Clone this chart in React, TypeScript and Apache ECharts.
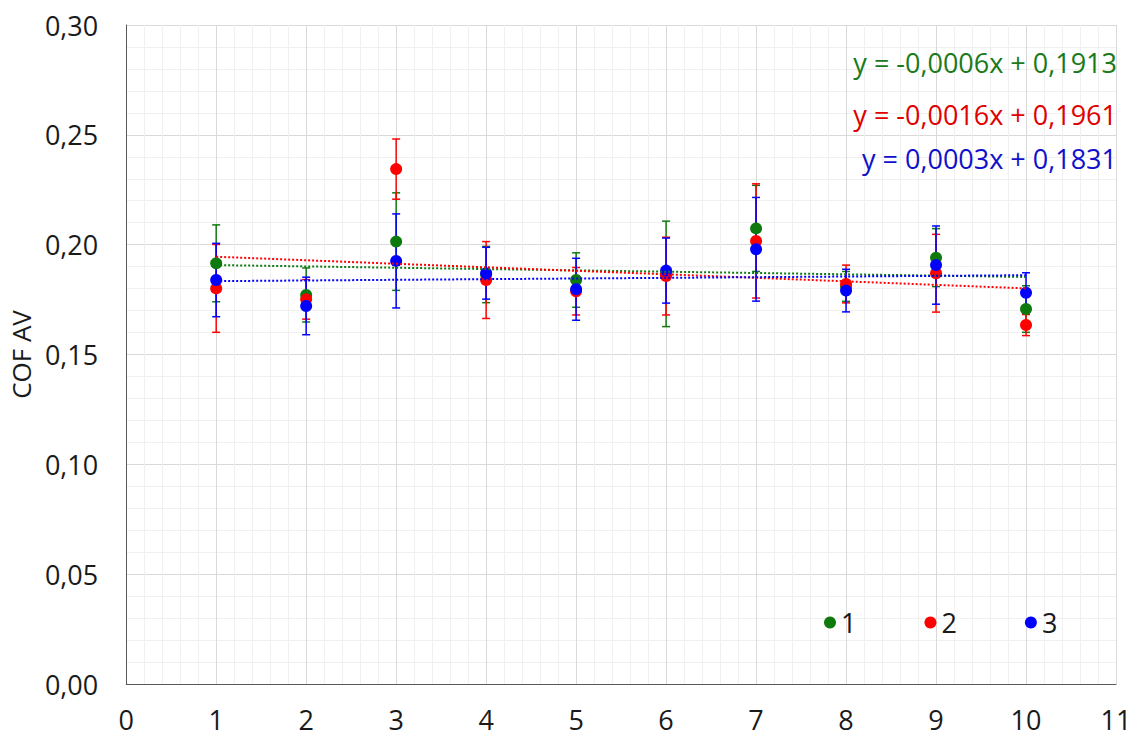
import React, { useEffect, useRef } from "react";
import * as echarts from "echarts";

const xValues = [1, 2, 3, 4, 5, 6, 7, 8, 9, 10];

const series1Mean = [0.1915, 0.1771, 0.2014, 0.1864, 0.1839, 0.1867, 0.2074, 0.181, 0.1941, 0.1707];
const series1Err = [0.0175, 0.0123, 0.0222, 0.0128, 0.0124, 0.024, 0.0196, 0.0068, 0.0132, 0.0106];

const series2Mean = [0.1801, 0.1751, 0.2344, 0.1839, 0.1788, 0.1857, 0.2017, 0.1821, 0.187, 0.1634];
const series2Err = [0.02, 0.009, 0.0137, 0.0175, 0.0108, 0.0177, 0.026, 0.0086, 0.0177, 0.0048];

const series3Mean = [0.1839, 0.1721, 0.1926, 0.187, 0.1797, 0.1882, 0.1979, 0.1791, 0.1907, 0.1781];
const series3Err = [0.0167, 0.0131, 0.0214, 0.0118, 0.0141, 0.0148, 0.0236, 0.0097, 0.0178, 0.0091];

const seriesNames = ["1", "2", "3"];
const seriesColors = ["#0E7A0E", "#FF0000", "#0000FF"];

const trendSlopes = [-0.0006, -0.0016, 0.0003];
const trendIntercepts = [0.1913, 0.1961, 0.1831];
const trendRange = [1, 10];

const equationLabels = ["y = -0,0006x + 0,1913", "y = -0,0016x + 0,1961", "y = 0,0003x + 0,1831"];
const equationColors = ["#1A7A1A", "#E00000", "#1010CC"];

const yAxisTitle = "COF AV";

const FONT = '"Open Sans", "Noto Sans", sans-serif';

export default function App() {
  const ref = useRef<HTMLDivElement>(null);

  useEffect(() => {
    if (!ref.current) return;
    const chart = echarts.init(ref.current, undefined, { renderer: "svg" });

    const means = [series1Mean, series2Mean, series3Mean];
    const errs = [series1Err, series2Err, series3Err];

    const errorSeries = means.map((m, i) => ({
      type: "custom",
      name: "err" + seriesNames[i],
      z: 2,
      silent: true,
      data: xValues.map((x, k) => [x, m[k] - errs[i][k], m[k] + errs[i][k]]),
      encode: { x: 0, y: [1, 2] },
      renderItem: (_params: any, api: any) => {
        const x = api.value(0);
        const lo = api.value(1);
        const hi = api.value(2);
        const top = api.coord([x, hi]);
        const bot = api.coord([x, lo]);
        const hw = 4;
        const style = { stroke: seriesColors[i], lineWidth: 1.5 };
        return {
          type: "group",
          children: [
            { type: "line", shape: { x1: top[0], y1: top[1], x2: bot[0], y2: bot[1] }, style },
            { type: "line", shape: { x1: top[0] - hw, y1: top[1], x2: top[0] + hw, y2: top[1] }, style },
            { type: "line", shape: { x1: bot[0] - hw, y1: bot[1], x2: bot[0] + hw, y2: bot[1] }, style },
          ],
        };
      },
    }));

    const scatterSeries = means.map((m, i) => ({
      type: "scatter",
      name: seriesNames[i],
      z: 3,
      symbol: "circle",
      symbolSize: 12,
      itemStyle: { color: seriesColors[i], opacity: 1 },
      data: xValues.map((x, k) => [x, m[k]]),
    }));

    const trendSeries = trendSlopes.map((s, i) => ({
      type: "line",
      name: "trend" + seriesNames[i],
      z: 4,
      silent: true,
      showSymbol: false,
      symbol: "none",
      lineStyle: { color: seriesColors[i], width: 2, type: [2, 2] },
      data: trendRange.map((x) => [x, s * x + trendIntercepts[i]]),
    }));

    const option: any = {
      animation: false,
      grid: { left: 125, top: 25, right: 25, bottom: 53, containLabel: false },
      xAxis: {
        type: "value",
        min: 0,
        max: 11,
        interval: 1,
        axisLine: { show: true, lineStyle: { color: "#595959", width: 1 } },
        axisTick: { show: false },
        minorTick: { show: false, splitNumber: 5 },
        splitLine: { show: true, lineStyle: { color: "#d9d9d9", width: 1 } },
        minorSplitLine: { show: true, lineStyle: { color: "#f0f0f0", width: 1 } },
        axisLabel: { fontSize: 27, color: "#1a1a1a", fontFamily: FONT, margin: 22 },
      },
      yAxis: {
        type: "value",
        min: 0,
        max: 0.3,
        interval: 0.05,
        name: yAxisTitle,
        nameLocation: "middle",
        nameGap: 88,
        nameTextStyle: { fontSize: 26, color: "#1a1a1a", fontFamily: FONT },
        axisLine: { show: true, lineStyle: { color: "#595959", width: 1 } },
        axisTick: { show: false },
        minorTick: { show: false, splitNumber: 5 },
        splitLine: { show: true, lineStyle: { color: "#d9d9d9", width: 1 } },
        minorSplitLine: { show: true, lineStyle: { color: "#f0f0f0", width: 1 } },
        axisLabel: {
          fontSize: 27,
          color: "#1a1a1a",
          fontFamily: FONT,
          margin: 28,
          formatter: (v: number) => v.toFixed(2).replace(".", ","),
        },
      },
      legend: {
        data: seriesNames,
        left: 819,
        top: 604,
        icon: "circle",
        itemWidth: 12,
        itemHeight: 12,
        itemGap: 68,
        selectedMode: false,
        itemStyle: { opacity: 1 },
        textStyle: { fontSize: 27, color: "#1a1a1a", fontFamily: FONT },
      },
      graphic: equationLabels.map((t, i) => ({
        type: "text",
        x: 1117,
        y: [62, 114, 158][i],
        z: 100,
        silent: true,
        style: {
          text: t,
          fill: equationColors[i],
          font: `27px ${FONT}`,
          align: "right",
          verticalAlign: "middle",
        },
      })),
      series: [...errorSeries, ...scatterSeries, ...trendSeries],
    };

    chart.setOption(option);
    return () => chart.dispose();
  }, []);

  return (
    <div
      ref={ref}
      style={{ position: "absolute", left: 0, top: 0, width: 1141, height: 737, background: "#fff" }}
    />
  );
}
